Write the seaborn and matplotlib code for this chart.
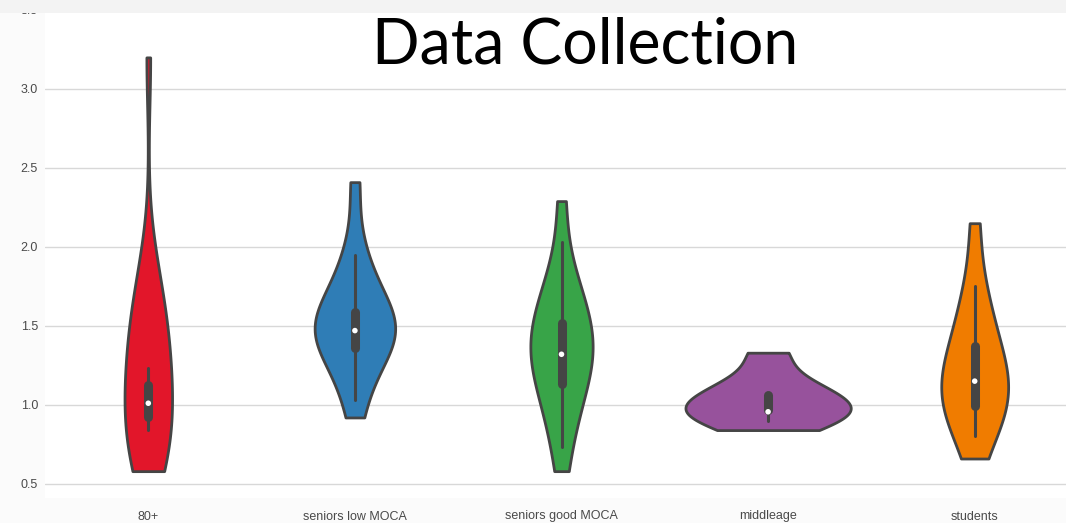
import numpy as np
import pandas as pd
import matplotlib
matplotlib.use("Agg")
import matplotlib.pyplot as plt
from matplotlib.patches import Rectangle
import seaborn as sns

# Groups along the x axis
groups = ["80+", "seniors low MOCA", "seniors good MOCA", "middleage", "students"]

# Observations per group
over_80 = [0.58, 0.61, 0.65, 0.70, 0.75, 0.80, 0.85, 0.90, 0.95, 1.05, 1.10,
           1.15, 1.21, 1.27, 1.33, 1.40, 1.47, 1.54, 1.60, 1.68, 1.78, 1.92, 3.20]
seniors_low_moca = [0.92, 1.10, 1.22, 1.30, 1.36, 1.42, 1.44, 1.46, 1.50, 1.52,
                    1.55, 1.60, 1.67, 1.75, 1.85, 2.00, 2.41]
seniors_good_moca = [0.58, 0.80, 0.93, 1.03, 1.11, 1.18, 1.24, 1.29, 1.34, 1.38,
                     1.43, 1.48, 1.54, 1.60, 1.67, 1.76, 1.90, 2.29]
middleage = [0.84, 0.91, 0.95, 0.97, 1.02, 1.08, 1.14, 1.33]
students = [0.66, 0.82, 0.89, 0.95, 1.00, 1.05, 1.10, 1.15, 1.20, 1.26, 1.33,
            1.41, 1.51, 1.63, 1.78, 2.15]

# Box summary shown inside each violin
box_low = [0.92, 1.36, 1.13, 0.965, 0.99]
box_high = [1.125, 1.59, 1.52, 1.06, 1.37]
medians = [1.01, 1.47, 1.32, 0.956, 1.15]
whisker_low = [0.84, 1.03, 0.73, 0.895, 0.80]
whisker_high = [1.23, 1.95, 2.03, 1.06, 1.75]

colors = ["#e2162a", "#2f7db6", "#38a448", "#97529c", "#f07c00"]
dark = "#454545"

samples = [over_80, seniors_low_moca, seniors_good_moca, middleage, students]
df = pd.DataFrame({
    "group": np.repeat(groups, [len(s) for s in samples]),
    "value": np.concatenate(samples),
})

sns.set_theme(style="whitegrid")
plt.rcParams["font.family"] = ["Liberation Sans", "DejaVu Sans"]

W, H = 1066, 523
fig = plt.figure(figsize=(W / 100, H / 100), dpi=100, facecolor="#fbfbfb")
ax = fig.add_axes([45 / W, 25 / H, 1033 / W, 488 / H])
ax.set_facecolor("white")

# One shared density scale for all violins (no hue), then colour each body
sns.violinplot(
    data=df, x="group", y="value", order=groups, color=colors[0],
    saturation=1, cut=0, inner=None, density_norm="area",
    width=0.8, linewidth=2.0, linecolor=dark, ax=ax,
)
for body, c in zip(ax.collections, colors):
    body.set_facecolor(c)

# Inner box: whiskers, quartile bar and median dot
for i in range(len(groups)):
    ax.plot([i, i], [whisker_low[i], whisker_high[i]], color=dark, lw=2.2,
            solid_capstyle="round", zorder=3)
    ax.plot([i, i], [box_low[i], box_high[i]], color=dark, lw=6.5,
            solid_capstyle="round", zorder=4)
ax.scatter(range(len(groups)), medians, s=16, color="white", edgecolor="none",
           zorder=5)

ax.set_xlim(-0.5, len(groups) - 0.5)
ax.set_ylim(0.41, 3.5)
ax.set_yticks(np.arange(0.5, 3.51, 0.5))
ax.set_yticklabels([f"{t:.1f}" for t in np.arange(0.5, 3.51, 0.5)])
ax.set_xlabel("")
ax.set_ylabel("")
ax.tick_params(axis="both", length=0, labelsize=9, labelcolor="#4a4a4a")
ax.tick_params(axis="y", pad=5)
ax.tick_params(axis="x", pad=9)
ax.yaxis.grid(True, color="#d8d8d8", lw=1.0)
ax.xaxis.grid(False)
for sp in ax.spines.values():
    sp.set_visible(False)

# Light strip along the top edge
fig.add_artist(Rectangle((0, 1 - 13 / H), 1, 13 / H, transform=fig.transFigure,
                         facecolor="#f3f3f3", edgecolor="none", zorder=10))

fig.text(585 / W, 1 - 63 / H, "Data Collection", fontsize=45, family="Lato",
         ha="center", va="baseline", color="black", zorder=11)

fig.savefig("out.png", dpi=100, facecolor=fig.get_facecolor())
